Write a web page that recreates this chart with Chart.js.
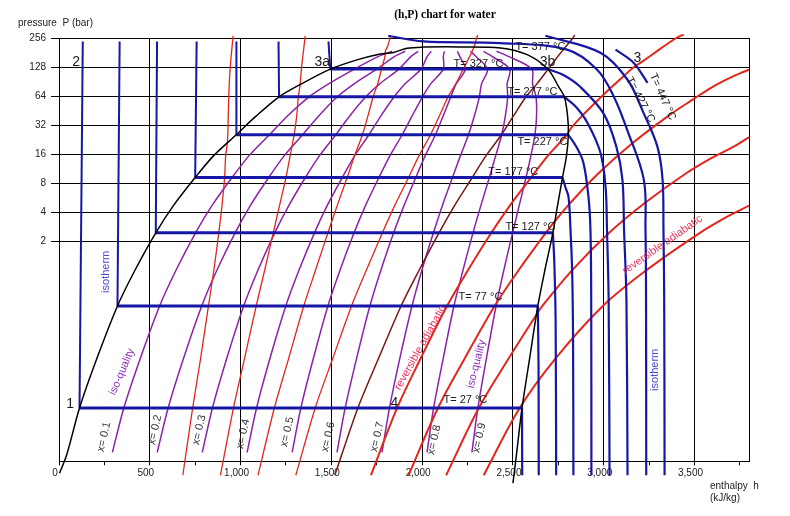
<!DOCTYPE html>
<html>
<head>
<meta charset="utf-8">
<script src="https://cdn.jsdelivr.net/npm/chart.js@4.4.1/dist/chart.umd.min.js"></script>
<style>
  html, body { margin: 0; padding: 0; background: #fff; }
</style>
</head>
<body>
<canvas id="myChart" width="790" height="516"></canvas>
<script>
'use strict';

// axis ticks
const xTicks = [0, 250, 500, 750, 1000, 1250, 1500, 1750, 2000, 2250, 2500, 2750, 3000, 3250, 3500, 3750];
const yTicks = [2, 4, 8, 16, 32, 64, 128, 256];

// saturation dome, [h kJ/kg, P bar]
const dome = [[3,0.008],[42,0.0123],[113,0.0378],[209,0.1235],[322,0.43],[419,1.0135],[533,2.46],[632,4.76],[750,9.2],[852,15.5],[976,25.5],[1085,39.7],[1212,63],[1335,85.8],[1494,122],[1641,152],[1751,172],[1843,181.5],[1917,201],[2008,206],[2200,207],[2431,202],[2578,172],[2692,122],[2752,80],[2783,63],[2801,39.7],[2805,25.5],[2795,15.5],[2773,9.2],[2746,4.76],[2720,2.46],[2676,1.0135],[2637,0.43],[2592,0.1235],[2550,0.0378],[2519,0.0123],[2500,0.0063]];

// two-phase isotherms (thick): T, P, h liquid, h vapour
const satT = [27, 77, 127, 177, 227, 277, 327];
const satP = [0.0378, 0.43, 2.46, 9.2, 25.5, 63, 122];
const satHf = [113, 322, 533, 750, 976, 1212, 1494];
const satHg = [2550, 2637, 2720, 2773, 2805, 2783, 2692];

// liquid isotherms up to top
const liq27 = [[113,0.0378],[131,236]];
const liq77 = [[322,0.43],[334,236]];
const liq127 = [[533,2.46],[540,236]];
const liq177 = [[750,9.2],[758,236]];
const liq227 = [[976,25.5],[977,236]];
const liq277 = [[1212,63],[1209,236]];
const liq327 = [[1494,122],[1484,236]];

// vapour isotherms
const vap27 = [[2550,0.0378],[2551,0.0076]];
const vap77 = [[2637,0.43],[2641,0.1],[2642,0.0076]];
const vap127 = [[2720,2.46],[2728,1.2],[2735,0.3],[2738,0.0076]];
const vap177 = [[2773,9.2],[2790,7.2],[2806,5.8],[2817,2.64],[2826,1],[2831,0.2],[2833,0.0076]];
const vap227 = [[2805,25.5],[2850,19],[2888,13.1],[2916,5.8],[2927,2.6],[2931,0.5],[2932,0.0076]];
const vap277 = [[2783,63],[2845,50],[2910,34],[2982,16.6],[3010,7.4],[3018,2.6],[3027,0.5],[3032,0.0076]];
const vap327 = [[2692,122],[2778,106],[2870,80],[3000,42],[3070,19],[3103,8.7],[3112,2.6],[3125,0.5],[3131,0.0076]];
const iso377 = [[1813,270],[2006,236],[2431,227],[2798,194],[2964,120],[3055,63.6],[3129,28.7],[3221,8.7],[3230,2.64],[3233,0.5],[3234,0.0076]];
const iso427 = [[2679,270],[2982,180],[3131,94.6],[3219,43],[3296,19.1],[3324,8.7],[3329,2.64],[3333,0.5],[3335,0.0076]];
const iso447 = [[3065,194],[3164,142],[3241,88]];

// iso-quality lines: h at each pressure of qualP
const qualP = [0.0131, 0.0378, 0.1235, 0.43, 1.0135, 2.46, 4.76, 9.2, 15.5, 25.5, 39.7, 63, 85.8, 122, 165, 186.5];
const q01 = [294,357,448,554,645,752,844,953,1047,1159,1257,1377,1485,1627,1760,1834];
const q02 = [541,601,686,786,870,970,1055,1155,1241,1342,1429,1533,1625,1750,1849,1906];
const q03 = [789,845,924,1017,1096,1188,1267,1357,1435,1524,1600,1690,1766,1872,1939,1978];
const q04 = [1036,1088,1162,1249,1322,1407,1478,1560,1629,1707,1772,1846,1906,1994,2028,2050];
const q05 = [1284,1332,1401,1481,1548,1625,1689,1762,1823,1890,1944,2002,2047,2116,2117,2122];
const q06 = [1531,1576,1639,1712,1773,1843,1901,1965,2017,2073,2115,2158,2187,2238,2207,2194];
const q07 = [1779,1820,1877,1944,1999,2062,2112,2167,2211,2255,2287,2315,2327,2360,2296,2266];
const q08 = [2027,2063,2116,2175,2225,2280,2324,2370,2405,2438,2458,2471,2468,2482,2385,2338];
const q09 = [2274,2307,2354,2407,2450,2498,2535,2572,2599,2621,2630,2627,2608,2604,2475,2410];

// reversible adiabatics
const s1 = [[682,0.0076],[736,0.0378],[780,0.1235],[823,0.43],[853,1.0135],[880,2.46],[898,4.76],[912,9.2],[918,15.5],[928,21.8],[935,64],[943,128],[959,270]];
const s2 = [[889,0.0076],[961,0.0378],[1022,0.1235],[1086,0.43],[1133,1.0135],[1180,2.46],[1215,4.76],[1250,9.2],[1273,15.5],[1295,25.5],[1309,39.7],[1318,63],[1327,82],[1336,128],[1348,200],[1356,270]];
const s3 = [[1096,0.0076],[1186,0.0378],[1265,0.1235],[1348,0.43],[1413,1.0135],[1481,2.46],[1533,4.76],[1587,9.2],[1628,15.5],[1671,25.5],[1701,39.7],[1730,63],[1755,85.8],[1776,122],[1795,165],[1797,186.5],[1812,215],[1826,270]];
const s4 = [[1304,0.0076],[1411,0.0378],[1508,0.1235],[1611,0.43],[1693,1.0135],[1781,2.46],[1850,4.76],[1925,9.2],[1983,15.5],[2046,25.5],[2094,39.7],[2143,63],[2185,85.8],[2226,122],[2262,165],[2276,186.5],[2287,210],[2300,256],[2306,275]];
const s5 = [[1519,0.0076],[1646,0.0378],[1760,0.1235],[1884,0.43],[1984,1.0135],[2093,2.46],[2180,4.76],[2276,9.2],[2352,15.5],[2437,25.5],[2502,39.7],[2572,63],[2632,85.8],[2694,122],[2730,150],[2783,200],[2826,250],[2840,275]];
const s6 = [[1718,0.0076],[1862,0.0378],[1992,0.1235],[2137,0.43],[2253,1.0135],[2381,2.46],[2485,4.76],[2600,9.2],[2693,15.5],[2797,25.5],[2821,30],[2881,40],[2975,60],[3045,80],[3102,100],[3160,125],[3222,150],[3315,200],[3400,256],[3440,278]];
const s7 = [[1925,0.0076],[2087,0.0378],[2235,0.1235],[2399,0.43],[2532,1.0135],[2681,2.46],[2728,3.2],[2815,5],[2967,10],[3146,20],[3356,40],[3496,60],[3600,80],[3690,98],[3750,110],[3800,120]];
const s8 = [[2132,0.0076],[2312,0.0378],[2477,0.1235],[2632,0.355],[2662,0.43],[2824,1.0],[3030,2.46],[3226,5],[3448,10],[3590,14.5],[3700,18.5],[3800,24]];
const s9 = [[2339,0.0076],[2537,0.0378],[2735,0.1235],[2995,0.43],[3232,1.0],[3530,2.46],[3690,3.7],[3800,4.7]];

// text notes, placed in data units
const notes = [
  ['T= 377 °C', 2651, 208, 0], ['T= 327 °C', 2310, 138, 0], ['T= 277 °C', 2607, 71, 0],
  ['T= 227 °C', 2662, 21.6, 0], ['T= 177 °C', 2502, 10.5, 0], ['T= 127 °C', 2596, 2.84, 0],
  ['T= 77 °C', 2321, 0.535, 0], ['T= 27 °C', 2238, 0.0458, 0],
  ['T= 427 °C', 3202, 58.7, 62], ['T= 447 °C', 3324, 63.1, 66]
];
const points = [['1', 61, 0.0417], ['2', 94, 145], ['3a', 1450, 145], ['3b', 2690, 145], ['3', 3186, 160], ['4', 1847, 0.0427]];
const qualLabels = [['x= 0.1', 248, 0.019], ['x= 0.2', 529, 0.0224], ['x= 0.3', 772, 0.0224], ['x= 0.4', 1014, 0.0204], ['x= 0.5', 1257, 0.0214], ['x= 0.6', 1483, 0.019], ['x= 0.7', 1753, 0.019], ['x= 0.8', 2067, 0.0177], ['x= 0.9', 2315, 0.0185]];
const names = [
  ['isotherm', 259, 0.971, -90, '#4a4ad0'], ['isotherm', 3280, 0.0939, -90, '#4a4ad0'],
  ['iso-quality', 347, 0.0895, -67, '#9030b8'], ['iso-quality', 2299, 0.108, -76, '#9030b8'],
  ['reversible adiabatic', 1990, 0.159, -61, '#e8305a'], ['reversible adiabatic', 3324, 1.85, -35, '#e8305a']
];

const BLUE = '#1717a6', RED = '#e3261c', PURPLE = '#8a22aa';

function pts(arr) { return arr.map(function (p) { return { x: p[0], y: p[1] }; }); }
function qpts(arr) { return arr.map(function (h, i) { return { x: h, y: qualP[i] }; }); }
function line(data, color, width, tension) {
  return { data: data, showLine: true, borderColor: color, borderWidth: width, pointRadius: 0,
           tension: tension || 0, fill: false, clip: { left: 2, top: 8, right: 0, bottom: 25 },
           borderJoinStyle: 'round', borderCapStyle: 'butt' };
}

var datasets = [];
// dome drawn on top
datasets.push(line(pts(dome), '#000', 1.5, 0.3));
// two-phase isotherms
for (var i = 0; i < satT.length; i++) {
  datasets.push(line([{ x: satHf[i], y: satP[i] }, { x: satHg[i], y: satP[i] }], BLUE, 3));
}
[liq27, liq77, liq127, liq177, liq227, liq277, liq327].forEach(function (d) { datasets.push(line(pts(d), BLUE, 2)); });
[vap27, vap77, vap127, vap177, vap227, vap277, vap327, iso377, iso427, iso447].forEach(function (d) { datasets.push(line(pts(d), BLUE, 2.2, 0.35)); });
// reversible adiabatics
[s1, s2, s3, s4].forEach(function (d) { datasets.push(line(pts(d), RED, 1.3, 0.3)); });
datasets.push(line(pts(s5), '#7a1616', 1.5, 0.3));
[s6, s7, s8, s9].forEach(function (d) { datasets.push(line(pts(d), RED, 2, 0.35)); });
// iso-quality
[q01, q02, q03, q04, q05, q06, q07, q08, q09].forEach(function (d) { datasets.push(line(qpts(d), PURPLE, 1.5, 0.3)); });

function fmt(v) {
  if (v >= 1000) { return Math.floor(v / 1000) + ',' + String(v % 1000).padStart(3, '0'); }
  return String(v);
}

const decor = {
  id: 'decor',
  beforeDatasetsDraw: function (chart) {
    var ctx = chart.ctx, a = chart.chartArea;
    ctx.save();
    ctx.strokeStyle = '#000'; ctx.lineWidth = 1;
    ctx.beginPath(); ctx.moveTo(Math.round(a.right) + 0.5, a.top); ctx.lineTo(Math.round(a.right) + 0.5, a.bottom); ctx.stroke();
    ctx.restore();
  },
  afterDatasetsDraw: function (chart) {
    var ctx = chart.ctx, x = chart.scales.x, y = chart.scales.y;
    function put(t, h, p, rot, font, color) {
      ctx.save();
      ctx.translate(x.getPixelForValue(h), y.getPixelForValue(p));
      ctx.rotate(rot * Math.PI / 180);
      ctx.font = font; ctx.fillStyle = color; ctx.textAlign = 'center'; ctx.textBaseline = 'middle';
      ctx.fillText(t, 0, 0);
      ctx.restore();
    }
    notes.forEach(function (n) { put(n[0], n[1], n[2], n[3], '11px "Liberation Sans", Arial', '#1a1a1a'); });
    points.forEach(function (n) { put(n[0], n[1], n[2], 0, '14px "Liberation Sans", Arial', '#1a1a1a'); });
    qualLabels.forEach(function (n) { put(n[0], n[1], n[2], -77, '11px "Liberation Sans", Arial', '#333'); });
    names.forEach(function (n) { put(n[0], n[1], n[2], n[3], '11px "Liberation Sans", Arial', n[4]); });

    ctx.save();
    ctx.fillStyle = '#000';
    ctx.font = 'bold 11.5px "Liberation Serif", "Times New Roman", serif';
    ctx.textAlign = 'center'; ctx.textBaseline = 'middle';
    ctx.fillText('(h,P) chart for water', 445, 15);
    ctx.font = '10px "Liberation Sans", Arial';
    ctx.textAlign = 'left';
    ctx.fillStyle = '#222';
    ctx.fillText('pressure  P (bar)', 18, 23);
    ctx.fillText('enthalpy  h', 710, 486);
    ctx.fillText('(kJ/kg)', 710, 498);
    ctx.restore();
  }
};

Chart.defaults.font.family = '"Liberation Sans", Arial, sans-serif';
new Chart(document.getElementById('myChart'), {
  type: 'scatter',
  data: { datasets: datasets },
  plugins: [decor],
  options: {
    responsive: false,
    animation: false,
    events: [],
    layout: { padding: { top: 38, right: 41, left: 0, bottom: 0 } },
    plugins: { legend: { display: false }, tooltip: { enabled: false } },
    scales: {
      x: {
        type: 'linear', min: 0, max: 3800,
        afterBuildTicks: function (s) { s.ticks = xTicks.map(function (v) { return { value: v }; }); },
        afterFit: function (s) { s.height = 54.7; },
        grid: {
          color: function (c) { return c.tick && c.tick.value % 500 === 0 ? '#000' : 'rgba(0,0,0,0)'; },
          tickColor: '#000', tickLength: 4, lineWidth: 1
        },
        border: { color: '#000', width: 1 },
        ticks: {
          autoSkip: false, maxRotation: 0, padding: 2, labelOffset: -4, color: '#222',
          font: { size: 10 },
          callback: function (v) { return v % 500 === 0 ? fmt(v) : ''; }
        }
      },
      y: {
        type: 'logarithmic', min: 0.0106, max: 256,
        afterBuildTicks: function (s) { s.ticks = yTicks.map(function (v) { return { value: v }; }); },
        afterFit: function (s) { s.width = 59; },
        grid: { color: '#000', tickColor: '#000', tickLength: 8, lineWidth: 1 },
        border: { color: '#000', width: 1 },
        ticks: { padding: 5, color: '#222', font: { size: 10 }, major: { enabled: false },
                 callback: function (v) { return String(v); } }
      }
    }
  }
});
</script>
</body>
</html>
